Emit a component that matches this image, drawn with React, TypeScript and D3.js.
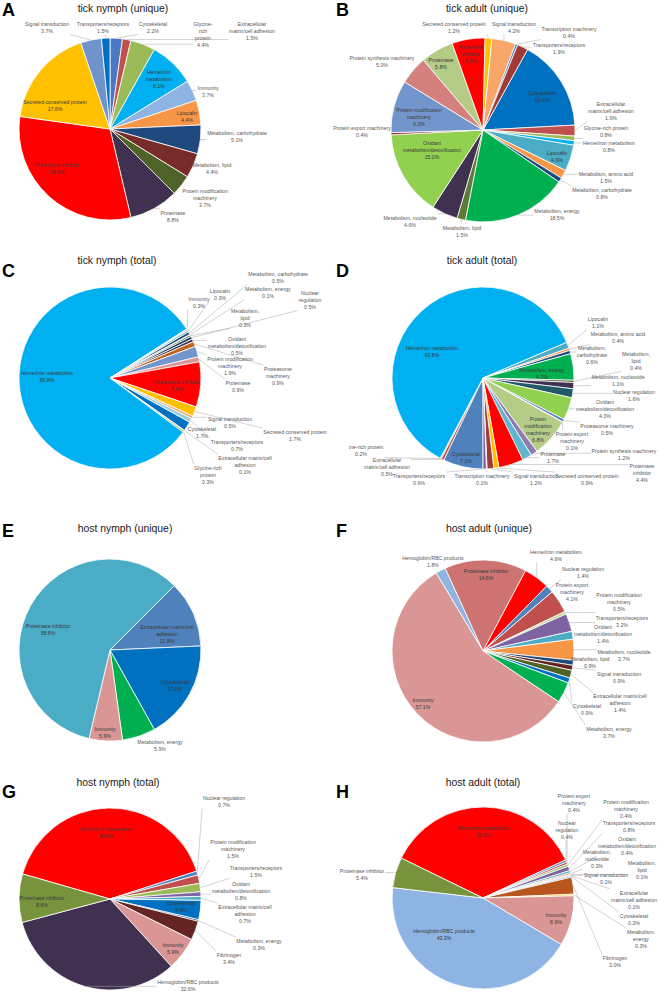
import React, { useEffect, useRef } from "react";
import * as d3 from "d3";

// ---------- Panel A: tick nymph (unique) ----------
const aCats = ["Cytoskeletal","Extracellular matrix/cell adhesion","Glycine-rich protein","Heme/iron metabolism","Immunity","Lipocalin","Metabolism, carbohydrate","Metabolism, lipid","Protein modification machinery","Proteinase","Proteinase inhibitor","Secreted conserved protein","Signal transduction","Transporters/receptors"];
const aVals = [2.2,1.5,4.4,8.1,3.7,4.4,5.1,4.4,3.7,8.8,30.9,17.6,3.7,1.5];
const aColors = ["#4A78C2","#C0504D","#9BBB59","#00B0F0","#8DB4E2","#F79646","#1F497D","#772C2A","#4F6228","#403151","#FF0000","#FFC000","#6F93CB","#0070C0"];
const aPos = [[153,24],[252,24],[203,24],[159,72],[208,88],[187,113],[237,133],[212,165],[205,191],[173,213],[57,165],[55,102],[47,24],[103,24]];
const aWrap = {"Extracellular matrix/cell adhesion":"Extracellular|matrix/cell adhesion","Glycine-rich protein":"Glycine-|rich|protein","Heme/iron metabolism":"Heme/iron|metabolism","Protein modification machinery":"Protein modification|machinery"};

// ---------- Panel B: tick adult (unique) ----------
const bCats = ["Cytoskeletal","Extracellular matrix/cell adhesion","Glycine-rich protein","Heme/iron metabolism","Lipocalin","Metabolism, amino acid","Metabolism, carbohydrate","Metabolism, energy","Metabolism, lipid","Metabolism, nucleotide","Oxidant metabolism/detoxification","Protein export machinery","Protein modification machinery","Protein synthesis machinery","Proteinase","Proteinase inhibitor","Secreted conserved protein","Signal transduction","Transcription machinery","Transporters/receptors"];
const bVals = [16.1,1.9,0.8,0.8,4.6,1.5,0.8,18.5,1.5,4.6,15.0,0.4,9.2,5.0,5.8,5.8,1.2,4.2,0.4,1.9];
const bColors = ["#0070C0","#C0504D","#9BBB59","#00B0F0","#4BACC6","#F79646","#1F497D","#00B050","#5F7A35","#403151","#92D050","#953735","#7295CC","#D3807E","#B4CC86","#FF0000","#FFC000","#F8A66A","#4F81BD","#A03A36"];
const bPos = [[542,93],[611,104],[606,128],[609,143],[557,153],[606,174],[602,190],[557,211],[462,228],[410,218],[432,143],[362,128],[419,110],[382,58],[441,60],[471,47],[454,24],[514,24],[569,29],[559,45]];
const bWrap = {"Extracellular matrix/cell adhesion":"Extracellular|matrix/cell adhesion","Oxidant metabolism/detoxification":"Oxidant|metabolism/detoxification","Protein modification machinery":"Protein modification|machinery","Proteinase inhibitor":"Proteinase|inhibitor"};

// ---------- Panel C: tick nymph (total) ----------
const cCats = ["Cytoskeletal","Extracellular matrix/cell adhesion","Glycine-rich protein","Heme/iron metabolism","Immunity","Lipocalin","Metabolism, carbohydrate","Metabolism, energy","Metabolism, lipid","Nuclear regulation","Oxidant metabolism/detoxification","Proteasome machinery","Protein modification machinery","Proteinase","Proteinase inhibitor","Secreted conserved protein","Signal transduction","Transporters/receptors"];
const cVals = [1.7,0.1,0.3,80.8,0.3,0.3,0.5,0.1,0.3,0.5,0.5,0.9,1.9,0.9,8.0,1.7,0.5,0.7];
const cColors = ["#0070C0","#C0504D","#9BBB59","#00B0F0","#DDD9C3","#4BACC6","#1F497D","#7F7F7F","#4F6228","#17375E","#403151","#C0651E","#7295CC","#D99694","#FF0000","#FFC000","#F8A66A","#93CDDD"];
const cPos = [[202,429],[245,458],[208,468],[47,373],[199,299],[220,291],[278,274],[268,289],[245,311],[310,293],[237,339],[278,369],[230,359],[238,383],[177,382],[295,432],[230,419],[237,442]];
const cWrap = {"Extracellular matrix/cell adhesion":"Extracellular matrix/cell|adhesion","Glycine-rich protein":"Glycine-rich|protein","Metabolism, lipid":"Metabolism,|lipid","Nuclear regulation":"Nuclear|regulation","Oxidant metabolism/detoxification":"Oxidant|metabolism/detoxification","Proteasome machinery":"Proteasome|machinery","Protein modification machinery":"Protein modification|machinery"};

// ---------- Panel D: tick adult (total) ----------
const dCats = ["Cytoskeletal","Extracellular matrix/cell adhesion","Glycine-rich protein","Heme/iron metabolism","Lipocalin","Metabolism, amino acid","Metabolism, carbohydrate","Metabolism, energy","Metabolism, lipid","Metabolism, nucleotide","Nuclear regulation","Oxidant metabolism/detoxification","Proteasome machinery","Protein export machinery","Protein modification machinery","Protein synthesis machinery","Proteinase","Proteinase inhibitor","Secreted conserved protein","Signal transduction","Transcription machinery","Transporters/receptors"];
const dVals = [7.1,0.5,0.2,60.8,1.1,0.4,0.6,4.7,0.4,1.1,1.6,4.0,0.5,0.1,6.8,1.2,1.7,4.4,0.9,1.2,0.1,0.6];
const dColors = ["#4F81BD","#C0504D","#9BBB59","#00B0F0","#4BACC6","#F79646","#1F497D","#00B050","#4F6228","#403151","#215968","#92D050","#4F81BD","#C0504D","#B4CC86","#8E7CB0","#5EB6CF","#FF0000","#FFC000","#A23B38","#7F7F7F","#8064A2"];
const dPos = [[466,454],[387,460],[361,447],[432,348],[598,319],[618,334],[592,348],[542,370],[636,354],[618,377],[634,392],[605,402],[607,426],[572,434],[538,419],[624,451],[553,454],[642,466],[587,476],[536,476],[482,476],[419,476]];
const dWrap = {"Extracellular matrix/cell adhesion":"Extracellular|matrix/cell adhesion","Metabolism, carbohydrate":"Metabolism,|carbohydrate","Metabolism, lipid":"Metabolism,|lipid","Oxidant metabolism/detoxification":"Oxidant|metabolism/detoxification","Protein export machinery":"Protein export|machinery","Protein modification machinery":"Protein|modification|machinery","Proteinase inhibitor":"Proteinase|inhibitor"};

// ---------- Panel E: host nymph (unique) ----------
const eCats = ["Extracellular matrix/cell adhesion","Cytoskeletal","Metabolism, energy","Immunity","Proteinase inhibitor"];
const eVals = [11.8,17.6,5.9,5.9,58.8];
const eColors = ["#4F81BD","#0070C0","#00B050","#D99694","#4BACC6"];
const ePos = [[167,627],[175,682],[160,742],[105,729],[48,626]];
const eWrap = {"Extracellular matrix/cell adhesion":"Extracellular matrix/cell|adhesion"};

// ---------- Panel F: host adult (unique) ----------
const fCats = ["Hemoglobin/RBC products","Proteinase inhibitor","Heme/iron metabolism","Nuclear regulation","Protein export machinery","Protein modification machinery","Transporters/receptors","Oxidant metabolism/detoxification","Metabolism, nucleotide","Metabolism, lipid","Signal transduction","Extracellular matrix/cell adhesion","Cytoskeletal","Metabolism, energy","Immunity"];
const fVals = [1.8,14.6,4.6,1.4,4.1,0.5,3.2,1.4,3.7,0.9,0.9,1.4,0.9,3.7,57.1];
const fColors = ["#8DB4E2","#CD7371","#FF0000","#4F81BD","#C0504D","#C4D79B","#8064A2","#4BACC6","#F79646","#1F497D","#632523","#4F6228","#0070C0","#00B050","#D99694"];
const fPos = [[433,558],[486,571],[556,552],[583,569],[572,585],[619,595],[622,618],[603,627],[624,652],[590,659],[619,674],[620,696],[587,706],[609,729],[423,700]];
const fWrap = {"Protein export machinery":"Protein export|machinery","Protein modification machinery":"Protein modification|machinery","Oxidant metabolism/detoxification":"Oxidant|metabolism/detoxification","Extracellular matrix/cell adhesion":"Extracellular matrix/cell|adhesion"};

// ---------- Panel G: host nymph (total) ----------
const gCats = ["Heme/iron metabolism","Nuclear regulation","Protein modification machinery","Transporters/receptors","Oxidant metabolism/detoxification","Extracellular matrix/cell adhesion","Cytoskeletal","Metabolism, energy","Fibrinogen","Immunity","Hemoglobin/RBC products","Proteinase inhibitor"];
const gVals = [40.6,0.7,1.5,1.5,0.8,0.7,3.4,0.3,3.4,5.9,32.6,8.6];
const gColors = ["#FF0000","#4F81BD","#C0504D","#9BBB59","#8064A2","#4BACC6","#0070C0","#1F497D","#632523","#D99694","#403151","#77933C"];
const gPos = [[106,829],[224,798],[233,842],[256,868],[241,884],[245,907],[181,903],[259,941],[229,955],[173,945],[188,982],[42,898]];
const gWrap = {"Protein modification machinery":"Protein modification|machinery","Oxidant metabolism/detoxification":"Oxidant|metabolism/detoxification","Extracellular matrix/cell adhesion":"Extracellular matrix/cell|adhesion"};

// ---------- Panel H: host adult (total) ----------
const hCats = ["Heme/iron metabolism","Nuclear regulation","Protein export machinery","Protein modification machinery","Transporters/receptors","Oxidant metabolism/detoxification","Metabolism, nucleotide","Metabolism, lipid","Signal transduction","Extracellular matrix/cell adhesion","Cytoskeletal","Fibrinogen","Metabolism, energy","Immunity","Hemoglobin/RBC products","Proteinase inhibitor"];
const hVals = [35.9,0.4,0.4,0.4,0.8,0.4,0.3,0.1,0.1,0.1,0.2,3.0,0.3,8.9,43.3,5.4];
const hColors = ["#FF0000","#4F81BD","#C0504D","#9BBB59","#8064A2","#4BACC6","#F79646","#1F497D","#632523","#4F6228","#0070C0","#B8561E","#FFC000","#D99694","#8DB4E2","#77933C"];
const hPos = [[483,828],[567,823],[574,796],[626,802],[629,823],[627,839],[597,852],[642,863],[606,875],[634,893],[634,916],[615,958],[641,932],[556,915],[444,931],[362,871]];
const hWrap = {"Nuclear regulation":"Nuclear|regulation","Protein export machinery":"Protein export|machinery","Protein modification machinery":"Protein modification|machinery","Oxidant metabolism/detoxification":"Oxidant|metabolism/detoxification","Metabolism, nucleotide":"Metabolism,|nucleotide","Metabolism, lipid":"Metabolism,|lipid","Extracellular matrix/cell adhesion":"Extracellular|matrix/cell adhesion","Metabolism, energy":"Metabolism,|energy"};

// ---------- Layout ----------
const panels = [
  { letter: "A", title: "tick nymph (unique)", cats: aCats, vals: aVals, colors: aColors, pos: aPos, wrap: aWrap, cx: 110, cy: 129, r: 91, start: 0, tx: 123, ty: 11.5, lx: 2, ly: 16 },
  { letter: "B", title: "tick adult (unique)", cats: bCats, vals: bVals, colors: bColors, pos: bPos, wrap: bWrap, cx: 483, cy: 130, r: 92, start: 29, tx: 487, ty: 11.5, lx: 336, ly: 16 },
  { letter: "C", title: "tick nymph (total)", cats: cCats, vals: cVals, colors: cColors, pos: cPos, wrap: cWrap, cx: 110, cy: 378, r: 91, start: 119, tx: 117, ty: 263.5, lx: 2, ly: 277 },
  { letter: "D", title: "tick adult (total)", cats: dCats, vals: dVals, colors: dColors, pos: dPos, wrap: dWrap, cx: 483, cy: 378, r: 91, start: 180, tx: 482, ty: 264, lx: 336, ly: 277, clipX: 349 },
  { letter: "E", title: "host nymph (unique)", cats: eCats, vals: eVals, colors: eColors, pos: ePos, wrap: eWrap, cx: 110, cy: 650, r: 91, start: 45, tx: 125, ty: 532, lx: 2, ly: 537 },
  { letter: "F", title: "host adult (unique)", cats: fCats, vals: fVals, colors: fColors, pos: fPos, wrap: fWrap, cx: 483, cy: 651, r: 91, start: -31, tx: 489, ty: 532, lx: 336, ly: 537 },
  { letter: "G", title: "host nymph (total)", cats: gCats, vals: gVals, colors: gColors, pos: gPos, wrap: gWrap, cx: 110, cy: 899, r: 91, start: -74, tx: 118, ty: 786, lx: 2, ly: 798 },
  { letter: "H", title: "host adult (total)", cats: hCats, vals: hVals, colors: hColors, pos: hPos, wrap: hWrap, cx: 483, cy: 898, r: 91, start: -64, tx: 483, ty: 786, lx: 336, ly: 798 },
];

const W = 658, H = 992;
const FONT = "'Liberation Sans', Arial, sans-serif";
const LABEL_SIZE = 5.2;
const LINE_H = 6.9;

export default function App() {
  const ref = useRef<SVGSVGElement | null>(null);

  useEffect(() => {
    const svg = d3.select(ref.current);
    svg.selectAll("*").remove();
    svg.append("rect").attr("width", W).attr("height", H).attr("fill", "#fff");
    const defs = svg.append("defs");

    panels.forEach((p: any) => {
      const g = svg.append("g");
      if (p.clipX) {
        const id = "clip" + p.letter;
        defs.append("clipPath").attr("id", id).append("rect")
          .attr("x", p.clipX).attr("y", 0).attr("width", W - p.clipX).attr("height", H);
        g.attr("clip-path", `url(#${id})`);
      }
      // panel letter and title
      svg.append("text").attr("x", p.lx).attr("y", p.ly).attr("font-family", FONT)
        .attr("font-weight", "bold").attr("font-size", 18).attr("fill", "#000").text(p.letter);
      svg.append("text").attr("x", p.tx).attr("y", p.ty).attr("font-family", FONT)
        .attr("font-size", 10.4).attr("text-anchor", "middle").attr("fill", "#1a1a1a").text(p.title);

      const a0 = (p.start * Math.PI) / 180;
      const pie = d3.pie<number>().sort(null).value((d) => d).startAngle(a0).endAngle(a0 + 2 * Math.PI);
      const arcs = pie(p.vals);
      const arc = d3.arc<d3.PieArcDatum<number>>().innerRadius(0).outerRadius(p.r);

      const pg = g.append("g").attr("transform", `translate(${p.cx},${p.cy})`);
      pg.selectAll("path").data(arcs).join("path")
        .attr("d", arc as any)
        .attr("fill", (_d: any, i: number) => p.colors[i])
        .attr("stroke", "#fff").attr("stroke-width", 0.8).attr("stroke-linejoin", "round");

      const lineG = g.append("g");
      const textG = g.append("g");
      arcs.forEach((a, i) => {
        const [x, y] = p.pos[i];
        const name = p.cats[i];
        const lines = (p.wrap[name] ?? name).split("|");
        lines.push(p.vals[i].toFixed(1) + "%");
        const t = textG.append("text").attr("font-family", FONT).attr("font-size", LABEL_SIZE)
          .attr("text-anchor", "middle");
        lines.forEach((ln: string, k: number) => {
          t.append("tspan").attr("x", x).attr("y", y + k * LINE_H).attr("dy", "0.35em").text(ln);
        });
        const bb = (t.node() as SVGTextElement).getBBox();
        const bcx = bb.x + bb.width / 2, bcy = bb.y + bb.height / 2;
        const inside = Math.hypot(bcx - p.cx, bcy - p.cy) < p.r * 0.95;
        t.attr("fill", inside ? "#3a3a3a" : "#595959");
        if (!inside) {
          const mid = (a.startAngle + a.endAngle) / 2;
          const sx = p.cx + p.r * Math.sin(mid);
          const sy = p.cy - p.r * Math.cos(mid);
          const pad = 0.8;
          const ex = Math.max(bb.x - pad, Math.min(sx, bb.x + bb.width + pad));
          const ey = Math.max(bb.y - pad, Math.min(sy, bb.y + bb.height + pad));
          if (Math.hypot(ex - sx, ey - sy) > 3) {
            lineG.append("line").attr("x1", sx).attr("y1", sy).attr("x2", ex).attr("y2", ey)
              .attr("stroke", "#A6A6A6").attr("stroke-width", 0.5);
          }
        }
      });
    });
  }, []);

  return (
    <svg
      ref={ref}
      width={W}
      height={H}
      viewBox={`0 0 ${W} ${H}`}
      style={{ position: "absolute", left: 0, top: 0, background: "#fff" }}
    />
  );
}
